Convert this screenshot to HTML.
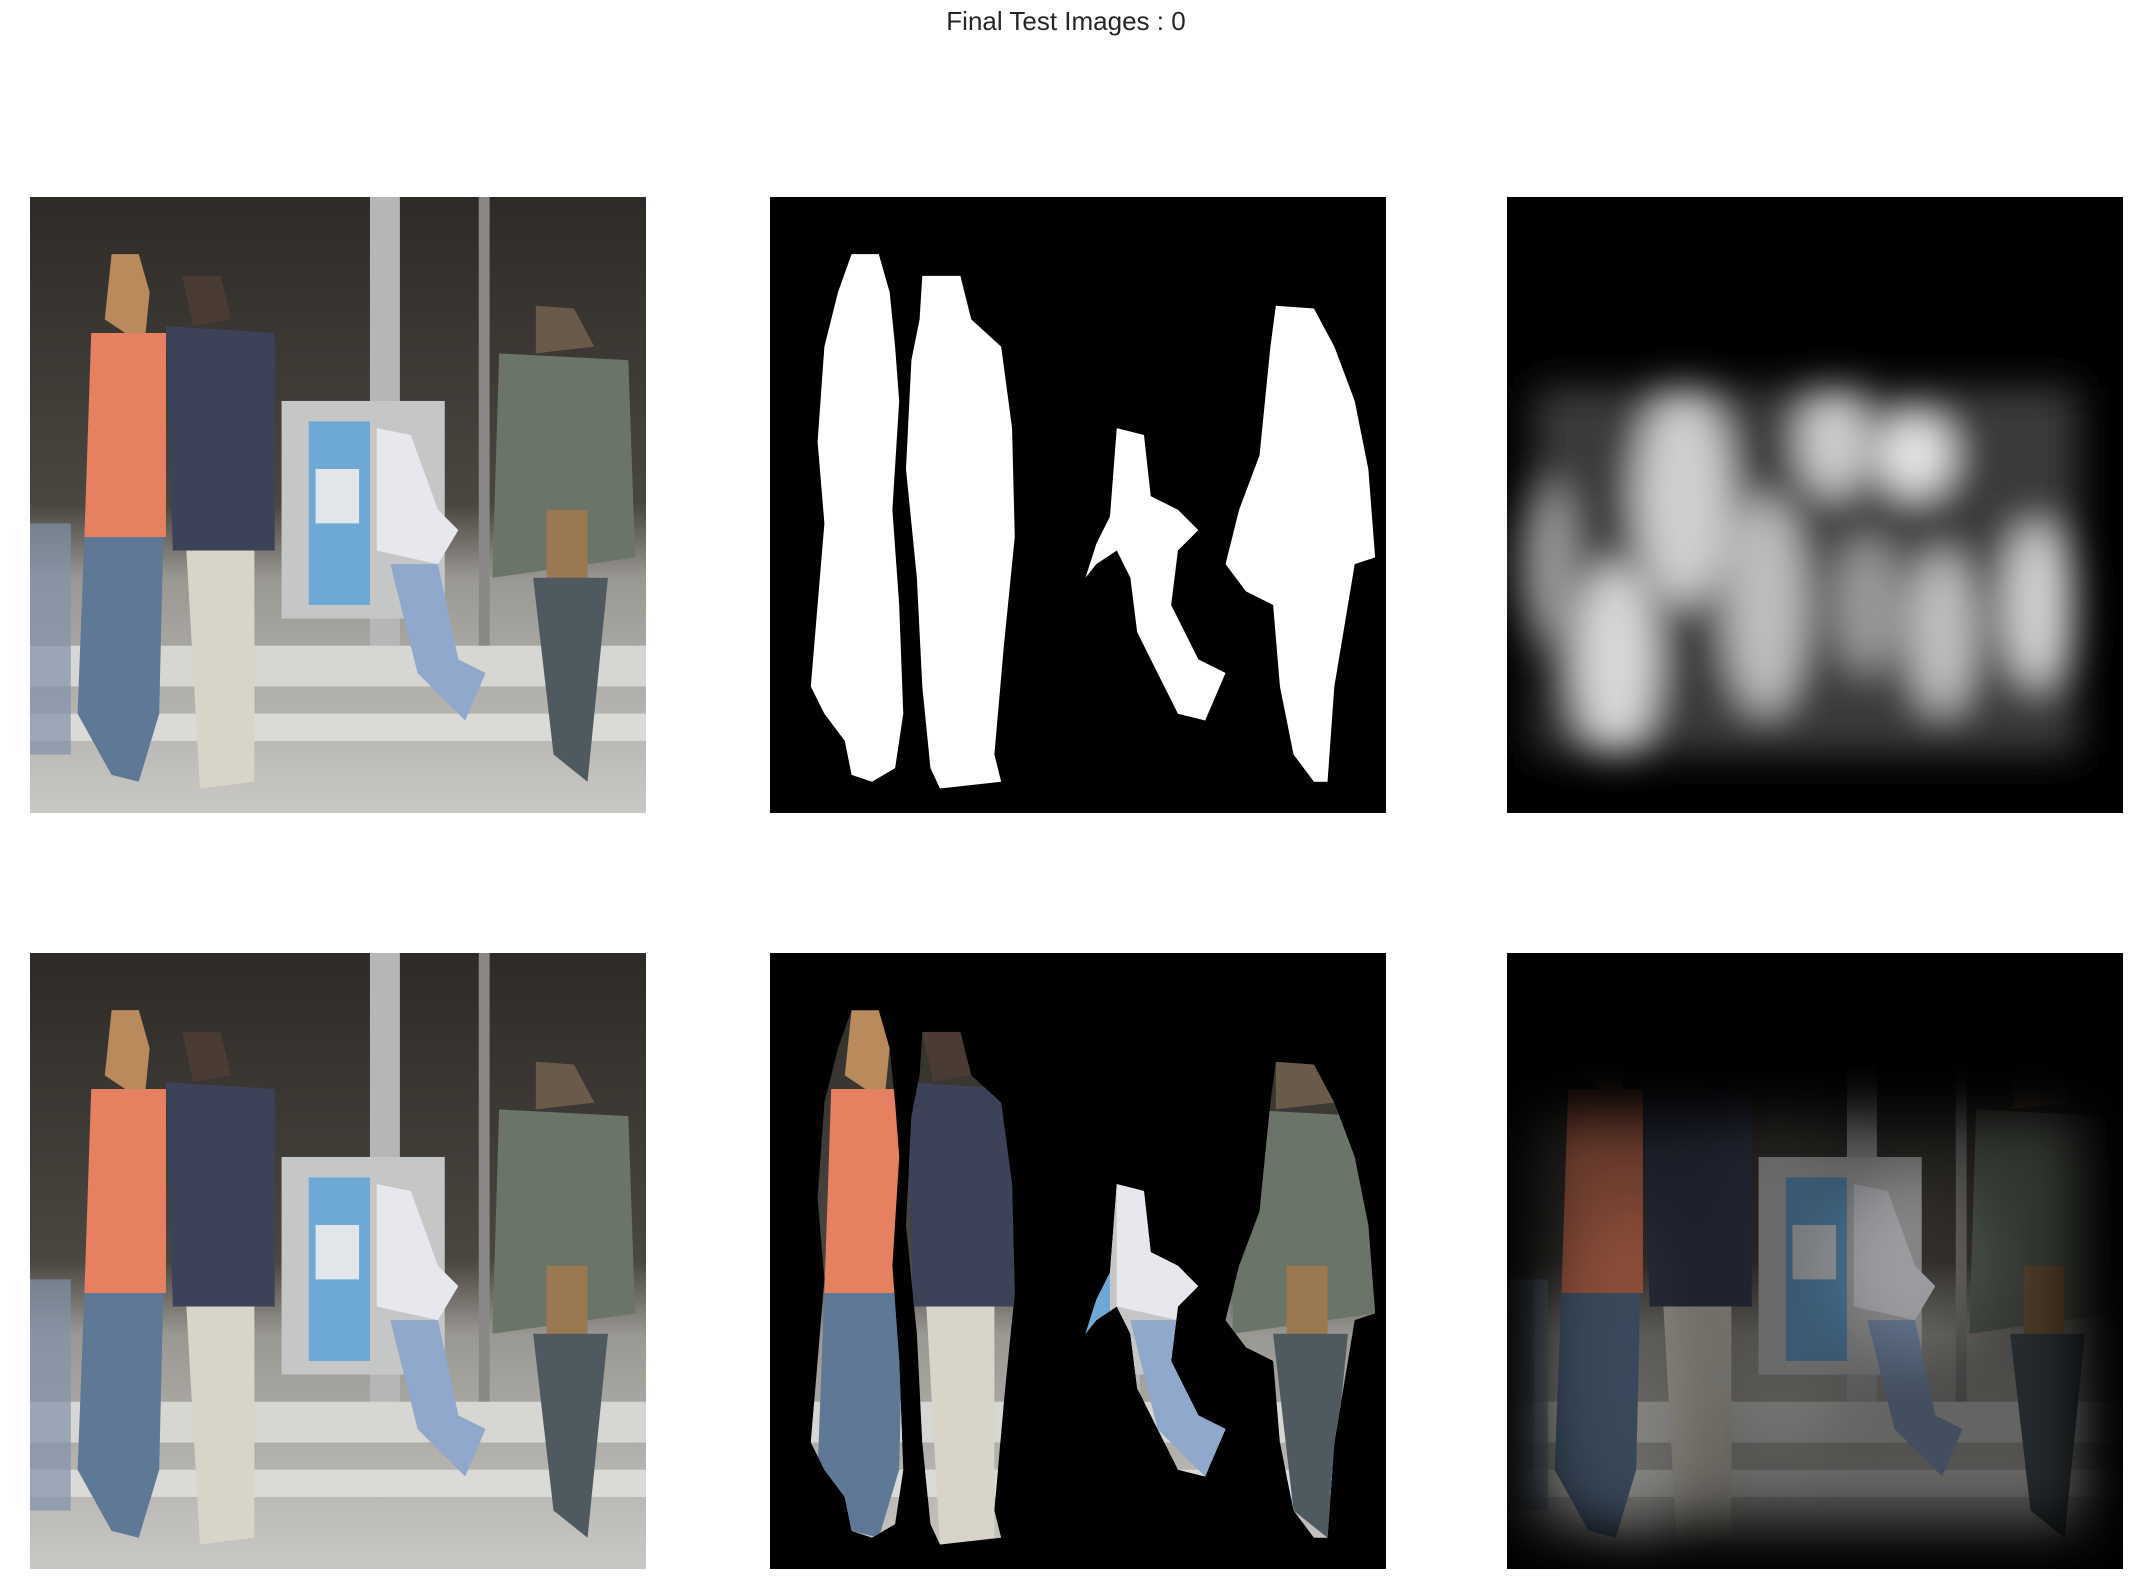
<!DOCTYPE html>
<html><head><meta charset="utf-8"><style>
html,body{margin:0;padding:0;background:#fff;width:2132px;height:1595px;overflow:hidden}
#title{position:absolute;left:0;width:2132px;top:6px;text-align:center;font:26px "Liberation Sans",sans-serif;color:#262626}
svg.p{position:absolute;width:616px;height:616px}
</style></head><body>
<div id="title">Final Test Images : 0</div>
<svg width="0" height="0" style="position:absolute">
<defs>
<filter id="blur" x="-20%" y="-20%" width="140%" height="140%"><feGaussianBlur stdDeviation="14"/></filter>
<filter id="vblur" x="-20%" y="-20%" width="140%" height="140%"><feGaussianBlur stdDeviation="20"/></filter>
<linearGradient id="bg" x1="0" y1="0" x2="0" y2="1">
<stop offset="0" stop-color="#2e2b27"/><stop offset="0.5" stop-color="#4a4640"/><stop offset="0.62" stop-color="#9a9893"/><stop offset="1" stop-color="#c9c8c4"/></linearGradient>
<clipPath id="pc">
<path d="M60 42 L80 42 L88 70 L92 110 L95 150 L90 230 L95 300 L98 380 L92 420 L75 430 L60 425 L55 400 L40 380 L30 360 L35 300 L40 240 L35 180 L40 110 L50 70 Z"/>
<path d="M112 58 L140 58 L148 90 L170 110 L178 170 L180 250 L172 330 L165 410 L170 430 L125 435 L118 420 L112 360 L108 280 L100 200 L104 120 L110 90 Z"/>
<path d="M255 170 L275 175 L280 220 L300 230 L315 245 L300 260 L295 300 L315 340 L335 350 L320 385 L300 380 L285 350 L270 320 L265 280 L255 260 L240 270 L232 280 L240 255 L250 235 Z"/>
<path d="M372 80 L400 82 L415 110 L430 150 L440 200 L445 265 L430 270 L425 300 L415 360 L410 430 L400 430 L385 410 L375 360 L370 300 L350 290 L335 270 L345 230 L360 190 L365 140 L368 110 Z"/>
</clipPath>
<g id="people">
<path d="M60 42 L80 42 L88 70 L92 110 L95 150 L90 230 L95 300 L98 380 L92 420 L75 430 L60 425 L55 400 L40 380 L30 360 L35 300 L40 240 L35 180 L40 110 L50 70 Z"/>
<path d="M112 58 L140 58 L148 90 L170 110 L178 170 L180 250 L172 330 L165 410 L170 430 L125 435 L118 420 L112 360 L108 280 L100 200 L104 120 L110 90 Z"/>
<path d="M255 170 L275 175 L280 220 L300 230 L315 245 L300 260 L295 300 L315 340 L335 350 L320 385 L300 380 L285 350 L270 320 L265 280 L255 260 L240 270 L232 280 L240 255 L250 235 Z"/>
<path d="M372 80 L400 82 L415 110 L430 150 L440 200 L445 265 L430 270 L425 300 L415 360 L410 430 L400 430 L385 410 L375 360 L370 300 L350 290 L335 270 L345 230 L360 190 L365 140 L368 110 Z"/>
</g>
<g id="photo">
<rect x="0" y="0" width="453" height="453" fill="url(#bg)"/>
<rect x="250" y="0" width="22" height="340" fill="#b5b6b6"/>
<rect x="330" y="0" width="8" height="330" fill="#8a8886"/>
<rect x="0" y="330" width="453" height="30" fill="#d6d6d2"/>
<rect x="0" y="380" width="453" height="20" fill="#dadad6"/>
<rect x="185" y="150" width="120" height="160" fill="#c5c7c6"/>
<rect x="205" y="165" width="45" height="135" fill="#6ea9d6"/>
<rect x="210" y="200" width="32" height="40" fill="#e0e6ea"/>
<path d="M60 42 L80 42 L88 70 L85 100 L70 100 L55 90 Z" fill="#b98a5c"/>
<path d="M45 100 L100 100 L100 250 L40 250 Z" fill="#e58060"/>
<path d="M40 250 L98 250 L95 380 L80 430 L60 425 L35 380 Z" fill="#5f7896"/>
<path d="M112 58 L140 58 L148 90 L120 95 Z" fill="#4a3c34"/>
<path d="M100 95 L180 100 L180 260 L105 260 Z" fill="#3c4258"/>
<path d="M115 260 L165 260 L165 430 L125 435 Z" fill="#d9d4c8"/>
<path d="M255 170 L280 175 L300 230 L315 245 L300 270 L255 260 Z" fill="#e6e8ee"/>
<path d="M265 270 L300 270 L315 340 L335 350 L320 385 L285 350 Z" fill="#8fa8cc"/>
<path d="M372 80 L400 82 L415 110 L372 115 Z" fill="#6a5a4a"/>
<path d="M345 115 L440 120 L445 265 L340 280 Z" fill="#6b7468"/>
<rect x="380" y="230" width="30" height="60" fill="#9a7850"/>
<path d="M370 280 L425 280 L410 430 L385 410 Z" fill="#4e5a60"/>
<rect x="0" y="240" width="30" height="170" fill="#8092aa" opacity="0.7"/>
</g>
<mask id="vm"><rect width="453" height="453" fill="#000"/><rect x="20" y="120" width="400" height="300" fill="#777" filter="url(#vblur)"/>
<ellipse cx="90" cy="300" rx="50" ry="120" fill="#999" filter="url(#vblur)"/>
<ellipse cx="200" cy="250" rx="60" ry="120" fill="#888" filter="url(#vblur)"/>
<ellipse cx="300" cy="230" rx="60" ry="70" fill="#aaa" filter="url(#vblur)"/></mask>
</defs></svg>

<svg class="p" style="left:30px;top:197px" viewBox="0 0 453 453"><use href="#photo"/></svg>
<svg class="p" style="left:770px;top:197px" viewBox="0 0 453 453"><rect width="453" height="453" fill="#000"/><use href="#people" fill="#fff"/></svg>
<svg class="p" style="left:1507px;top:197px" viewBox="0 0 453 453">
<rect width="453" height="453" fill="#000"/>
<g filter="url(#blur)">
<rect x="20" y="140" width="400" height="270" fill="#3a3a3a"/>
<ellipse cx="80" cy="340" rx="30" ry="70" fill="#d8d8d8"/>
<ellipse cx="130" cy="220" rx="35" ry="80" fill="#cfcfcf"/>
<ellipse cx="190" cy="300" rx="30" ry="80" fill="#bdbdbd"/>
<ellipse cx="240" cy="180" rx="25" ry="40" fill="#cfcfcf"/>
<ellipse cx="265" cy="300" rx="25" ry="50" fill="#999"/>
<ellipse cx="300" cy="190" rx="28" ry="30" fill="#e6e6e6"/>
<ellipse cx="320" cy="320" rx="25" ry="60" fill="#bfbfbf"/>
<ellipse cx="390" cy="300" rx="25" ry="60" fill="#cfcfcf"/>
<ellipse cx="30" cy="270" rx="20" ry="60" fill="#9a9a9a"/>
</g></svg>

<svg class="p" style="left:30px;top:953px" viewBox="0 0 453 453"><use href="#photo"/></svg>
<svg class="p" style="left:770px;top:953px" viewBox="0 0 453 453"><rect width="453" height="453" fill="#000"/><g clip-path="url(#pc)"><use href="#photo"/></g></svg>
<svg class="p" style="left:1507px;top:953px" viewBox="0 0 453 453">
<rect width="453" height="453" fill="#000"/>
<g mask="url(#vm)"><use href="#photo"/></g>
</svg>
</body></html>
